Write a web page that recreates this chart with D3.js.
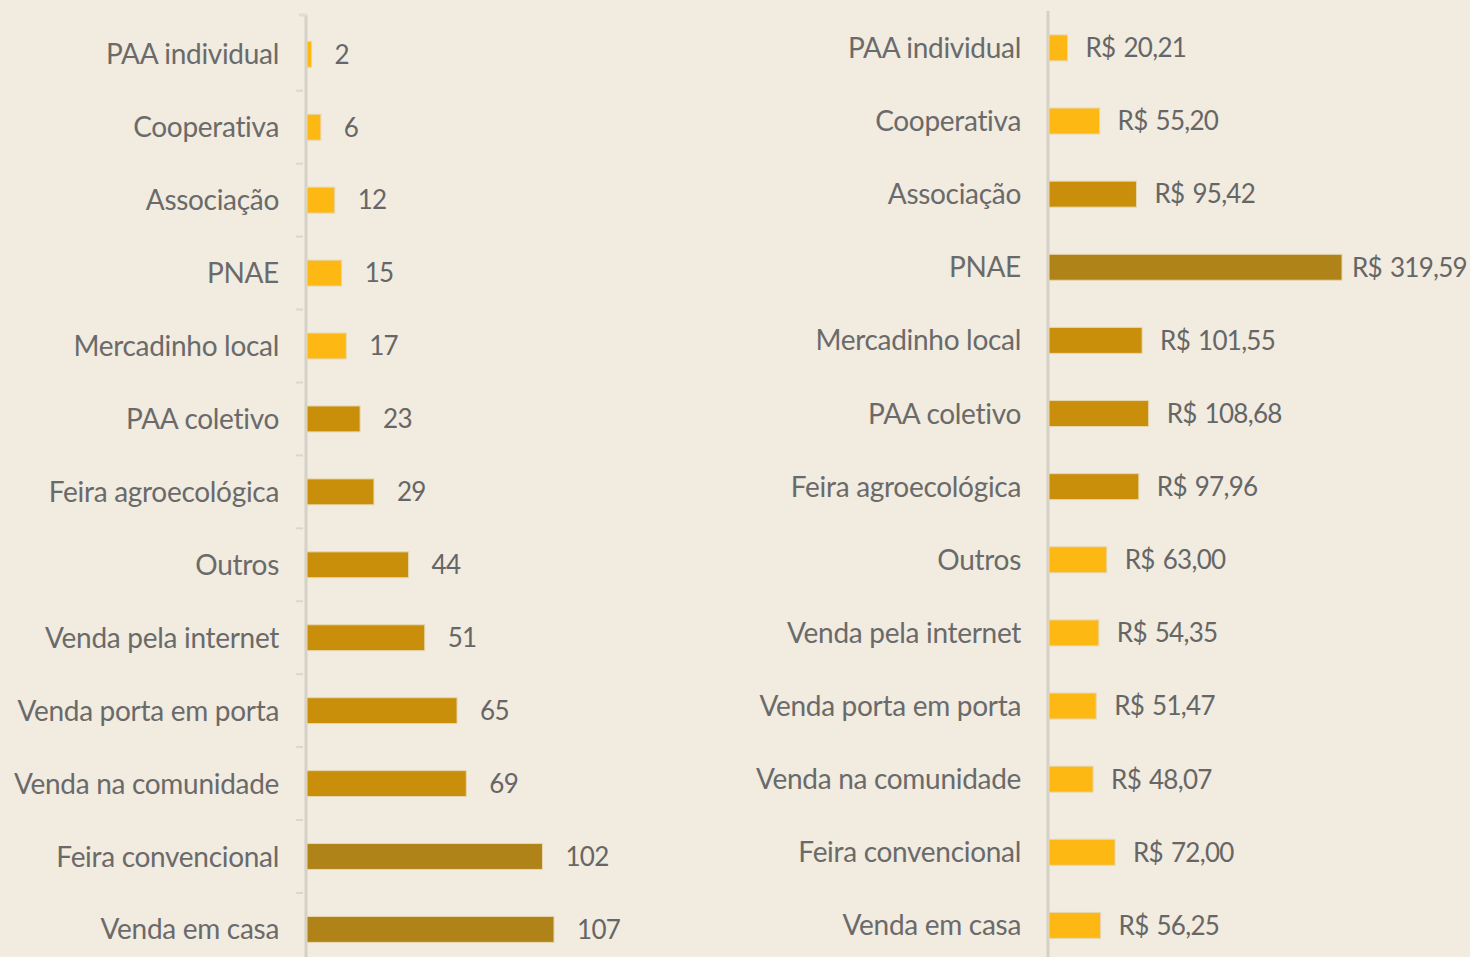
<!DOCTYPE html>
<html>
<head>
<meta charset="utf-8">
<script src="https://cdn.jsdelivr.net/npm/d3@7"></script>
<style>
  html, body { margin: 0; padding: 0; background: #f1ebe0; }
  svg { display: block; }
</style>
</head>
<body>
<div id="chart"></div>
<script>
// categories (same order in both panels)
const categories = [
  "PAA individual", "Cooperativa", "Associação", "PNAE", "Mercadinho local",
  "PAA coletivo", "Feira agroecológica", "Outros", "Venda pela internet",
  "Venda porta em porta", "Venda na comunidade", "Feira convencional", "Venda em casa"
];
// left panel: number of answers
const counts = [2, 6, 12, 15, 17, 23, 29, 44, 51, 65, 69, 102, 107];
// right panel: value in R$
const values = [20.21, 55.20, 95.42, 319.59, 101.55, 108.68, 97.96, 63.00, 54.35, 51.47, 48.07, 72.00, 56.25];

const colours = ["#fdb813", "#c98f0a", "#b08318"];

const width = 1470, height = 957;

const svg = d3.select("#chart").append("svg")
  .attr("width", width)
  .attr("height", height)
  .style("font-family", "Lato, 'Open Sans', sans-serif");

svg.append("rect").attr("width", width).attr("height", height).attr("fill", "#f1ebe0");

const brFormat = (v) => "R$ " + d3.format(".2f")(v).replace(".", ",");

const drawPanel = ({ data, x0, x, yTop, step, axisTop, labelX, gap, colour, fmt, ticks }) => {
  const y = d3.scaleBand()
    .domain(categories)
    .range([yTop, yTop + step * categories.length])
    .paddingInner(0.645)
    .paddingOuter(0.32);

  const g = svg.append("g");

  // axis line
  g.append("line")
    .attr("x1", x0 - 1).attr("x2", x0 - 1)
    .attr("y1", axisTop).attr("y2", height)
    .attr("stroke", "#d6d1c8")
    .attr("stroke-width", 3);

  if (ticks) {
    g.append("line")
      .attr("x1", x0 - 8).attr("x2", x0)
      .attr("y1", axisTop).attr("y2", axisTop)
      .attr("stroke", "#e2ddd4").attr("stroke-width", 3);
    g.selectAll(".tick")
      .data(categories.slice(1))
      .join("line")
      .attr("x1", x0 - 11).attr("x2", x0 - 4)
      .attr("y1", (d) => y(d) - (y.step() - y.bandwidth()) / 2)
      .attr("y2", (d) => y(d) - (y.step() - y.bandwidth()) / 2)
      .attr("stroke", "#dcd7ce").attr("stroke-width", 2);
  }

  g.selectAll(".bar")
    .data(categories)
    .join("rect")
    .attr("x", x0)
    .attr("y", (d) => y(d))
    .attr("width", (d, i) => x(data[i]) - x0)
    .attr("height", y.bandwidth())
    .attr("fill", (d, i) => colour(data[i]))
    .attr("stroke", "#e6d7b0")
    .attr("stroke-width", 1);

  g.selectAll(".cat")
    .data(categories)
    .join("text")
    .attr("x", labelX)
    .attr("y", (d) => y(d) + y.bandwidth() / 2)
    .attr("dy", "0.36em")
    .attr("text-anchor", "end")
    .attr("font-size", 28)
    .attr("letter-spacing", "-0.3px")
    .attr("fill", "#6a6a6a")
    .text((d) => d);

  g.selectAll(".val")
    .data(categories)
    .join("text")
    .attr("y", (d) => y(d) + y.bandwidth() / 2)
    .attr("dy", "0.36em")
    .attr("font-size", 26)
    .attr("letter-spacing", "-0.7px")
    .attr("word-spacing", "2px")
    .attr("fill", "#666")
    .text((d, i) => fmt(data[i]))
    .attr("x", function (d, i) {
      // keep the label inside the picture (pull it closer to the bar if needed)
      const w = this.getComputedTextLength();
      return Math.min(x(data[i]) + gap, width - w - 3);
    });
};

// left panel
const xLeft = d3.scaleLinear().domain([0, 107]).range([307, 554]);
drawPanel({
  data: counts,
  x0: 307,
  x: xLeft,
  yTop: 18,
  step: 72.9,
  axisTop: 15,
  labelX: 279,
  gap: 23,
  colour: d3.scaleThreshold().domain([20, 100]).range(colours),
  fmt: (v) => v,
  ticks: true
});

// right panel
const xRight = d3.scaleLinear().domain([0, 319.59]).range([1049, 1342]);
drawPanel({
  data: values,
  x0: 1049,
  x: xRight,
  yTop: 11.5,
  step: 73.1,
  axisTop: 11,
  labelX: 1021,
  gap: 18,
  colour: d3.scaleThreshold().domain([80, 200]).range(colours),
  fmt: brFormat,
  ticks: false
});
</script>
</body>
</html>
